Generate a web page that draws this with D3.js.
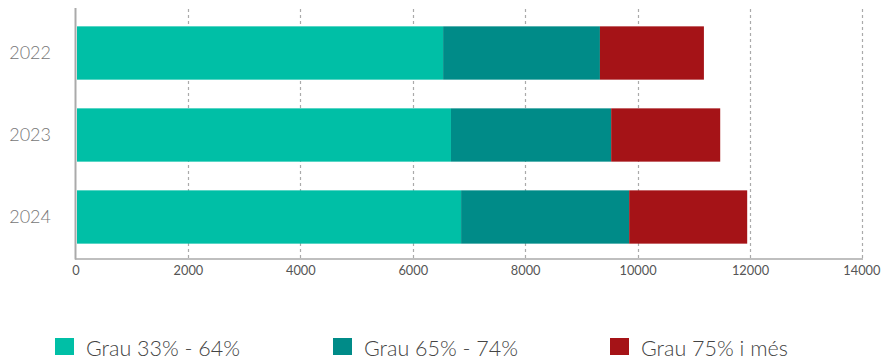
<!DOCTYPE html>
<html><head><meta charset="utf-8">
<script src="https://cdn.jsdelivr.net/npm/d3@7"></script>
<style>body{margin:0;background:#fff}svg{display:block}</style>
</head><body>
<svg id="c" width="881" height="359"></svg>
<script>
const categories = ["2022", "2023", "2024"];
const seriesNames = ["Grau 33% - 64%", "Grau 65% - 74%", "Grau 75% i més"];
const grau33_64 = [6540, 6680, 6860];
const grau65_74 = [2790, 2850, 2990];
const grau75 = [1850, 1940, 2100];
const xTicks = [0, 2000, 4000, 6000, 8000, 10000, 12000, 14000];
const colors = ["#00BFA6", "#008B88", "#A51317"];

const svg = d3.select("#c");
const font = "Lato, 'Open Sans', sans-serif";
const x = d3.scaleLinear().domain([0, 12000]).range([75.5, 750]);
const y = d3.scaleBand().domain(categories).range([12, 258]).paddingInner(0.35).paddingOuter(0.175);

// gridlines
svg.append("g").selectAll("line").data(xTicks.filter(d => d > 0)).join("line")
  .attr("x1", d => Math.round(x(d)) + 0.5).attr("x2", d => Math.round(x(d)) + 0.5)
  .attr("y1", 9).attr("y2", 258)
  .attr("stroke", "#aaa").attr("stroke-width", 1.2).attr("stroke-dasharray", "3,3");

// bars
const rows = categories.map((c, i) => ({cat: c, vals: [grau33_64[i], grau65_74[i], grau75[i]]}));
const stack = d3.stack().keys([0, 1, 2]).value((d, k) => d.vals[k]);
const layers = stack(rows);
svg.append("g").selectAll("g").data(layers).join("g")
  .attr("fill", (d, i) => colors[i])
  .selectAll("rect").data(d => d).join("rect")
  .attr("x", d => x(d[0]) + (d[0] === 0 ? 1.5 : 0))
  .attr("width", d => x(d[1]) - x(d[0]) - (d[0] === 0 ? 1.5 : 0))
  .attr("y", d => y(d.data.cat))
  .attr("height", y.bandwidth());

// axes lines
svg.append("line").attr("x1", 75.5).attr("x2", 75.5).attr("y1", 8).attr("y2", 259.5)
  .attr("stroke", "#aaa").attr("stroke-width", 2);
svg.append("line").attr("x1", 75).attr("x2", 863).attr("y1", 259).attr("y2", 259)
  .attr("stroke", "#aaa").attr("stroke-width", 1.5);

// x tick labels
const xAxis = d3.axisBottom(x).tickValues(xTicks).tickSize(0).tickPadding(0).tickFormat(d3.format("d"));
const gx = svg.append("g").attr("transform", "translate(0,262)").call(xAxis);
gx.select(".domain").remove();
gx.selectAll("text").attr("font-family", font).attr("font-size", 12.8).attr("fill", "#555")
  .attr("dy", "1em");
gx.selectAll("text").filter(d => d === 14000).attr("dx", -1);

// y labels
const yAxis = d3.axisLeft(y).tickSize(0).tickPadding(0);
const gy = svg.append("g").attr("transform", "translate(51,0)").call(yAxis);
gy.select(".domain").remove();
gy.selectAll("text").attr("font-family", font).attr("font-size", 18).attr("font-weight", 300)
  .attr("fill", "#777");

// legend
const legX = [55, 333, 610];
const leg = svg.append("g").selectAll("g").data(seriesNames).join("g")
  .attr("transform", (d, i) => `translate(${legX[i]},338)`);
leg.append("rect").attr("width", 19).attr("height", 17).attr("fill", (d, i) => colors[i]);
leg.append("text").attr("x", 31).attr("y", 17.5).text(d => d)
  .attr("font-family", font).attr("font-size", 21.5).attr("font-weight", 300).attr("fill", "#444");
</script>
</body></html>
